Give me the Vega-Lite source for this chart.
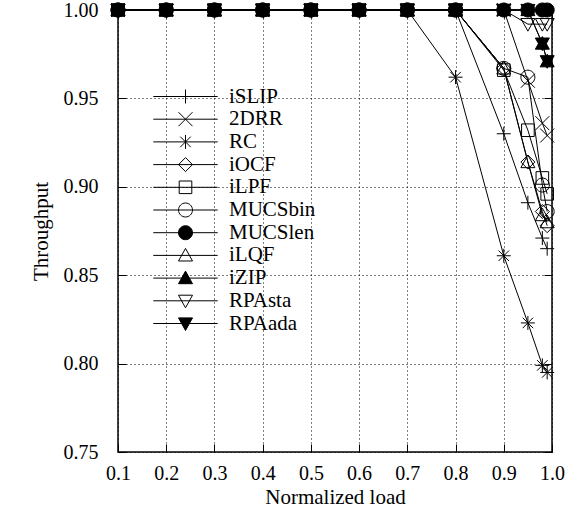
{
  "$schema": "https://vega.github.io/schema/vega-lite/v6.json",
  "width": 434,
  "height": 442,
  "autosize": {"type": "none"},
  "padding": {"left": 118, "top": 10, "right": 27, "bottom": 58},
  "background": "white",
  "config": {
    "view": {"stroke": "black", "strokeWidth": 1.5},
    "axis": {
      "labelFont": "Liberation Serif", "labelFontSize": 21, "labelColor": "black", "labelFlush": false,
      "titleFont": "Liberation Serif", "titleFontSize": 21, "titleColor": "black", "titleFontWeight": "normal",
      "domain": false, "tickColor": "black", "tickSize": -8, "tickWidth": 1,
      "grid": true, "gridColor": "black", "gridDash": [1, 3], "gridWidth": 1, "gridOpacity": 1
    },
    "legend": {
      "labelFont": "Liberation Serif", "labelFontSize": 21, "labelColor": "black",
      "symbolStrokeColor": "black", "symbolStrokeWidth": 1, "symbolSize": 196,
      "labelOffset": 33, "rowPadding": 0.7, "padding": 0, "symbolOpacity": 1
    }
  },
  "data": {"values": [
    {"s":"iSLIP","x":0.1,"y":1},{"s":"iSLIP","x":0.2,"y":1},{"s":"iSLIP","x":0.3,"y":1},{"s":"iSLIP","x":0.4,"y":1},{"s":"iSLIP","x":0.5,"y":1},{"s":"iSLIP","x":0.6,"y":1},{"s":"iSLIP","x":0.7,"y":1},{"s":"iSLIP","x":0.8,"y":1},{"s":"iSLIP","x":0.9,"y":0.930},{"s":"iSLIP","x":0.95,"y":0.891},{"s":"iSLIP","x":0.98,"y":0.871},{"s":"iSLIP","x":0.99,"y":0.865},
    {"s":"2DRR","x":0.1,"y":1},{"s":"2DRR","x":0.2,"y":1},{"s":"2DRR","x":0.3,"y":1},{"s":"2DRR","x":0.4,"y":1},{"s":"2DRR","x":0.5,"y":1},{"s":"2DRR","x":0.6,"y":1},{"s":"2DRR","x":0.7,"y":1},{"s":"2DRR","x":0.8,"y":1},{"s":"2DRR","x":0.9,"y":1},{"s":"2DRR","x":0.95,"y":0.960},{"s":"2DRR","x":0.98,"y":0.936},{"s":"2DRR","x":0.99,"y":0.929},
    {"s":"RC","x":0.1,"y":1},{"s":"RC","x":0.2,"y":1},{"s":"RC","x":0.3,"y":1},{"s":"RC","x":0.4,"y":1},{"s":"RC","x":0.5,"y":1},{"s":"RC","x":0.6,"y":1},{"s":"RC","x":0.7,"y":1},{"s":"RC","x":0.8,"y":0.962},{"s":"RC","x":0.9,"y":0.861},{"s":"RC","x":0.95,"y":0.823},{"s":"RC","x":0.98,"y":0.799},{"s":"RC","x":0.99,"y":0.795},
    {"s":"iOCF","x":0.1,"y":1},{"s":"iOCF","x":0.2,"y":1},{"s":"iOCF","x":0.3,"y":1},{"s":"iOCF","x":0.4,"y":1},{"s":"iOCF","x":0.5,"y":1},{"s":"iOCF","x":0.6,"y":1},{"s":"iOCF","x":0.7,"y":1},{"s":"iOCF","x":0.8,"y":1},{"s":"iOCF","x":0.9,"y":0.967},{"s":"iOCF","x":0.95,"y":0.914},{"s":"iOCF","x":0.98,"y":0.886},{"s":"iOCF","x":0.99,"y":0.878},
    {"s":"iLPF","x":0.1,"y":1},{"s":"iLPF","x":0.2,"y":1},{"s":"iLPF","x":0.3,"y":1},{"s":"iLPF","x":0.4,"y":1},{"s":"iLPF","x":0.5,"y":1},{"s":"iLPF","x":0.6,"y":1},{"s":"iLPF","x":0.7,"y":1},{"s":"iLPF","x":0.8,"y":1},{"s":"iLPF","x":0.9,"y":0.966},{"s":"iLPF","x":0.95,"y":0.932},{"s":"iLPF","x":0.98,"y":0.905},{"s":"iLPF","x":0.99,"y":0.896},
    {"s":"MUCSbin","x":0.1,"y":1},{"s":"MUCSbin","x":0.2,"y":1},{"s":"MUCSbin","x":0.3,"y":1},{"s":"MUCSbin","x":0.4,"y":1},{"s":"MUCSbin","x":0.5,"y":1},{"s":"MUCSbin","x":0.6,"y":1},{"s":"MUCSbin","x":0.7,"y":1},{"s":"MUCSbin","x":0.8,"y":1},{"s":"MUCSbin","x":0.9,"y":0.967},{"s":"MUCSbin","x":0.95,"y":0.962},{"s":"MUCSbin","x":0.98,"y":0.901},{"s":"MUCSbin","x":0.99,"y":0.886},
    {"s":"MUCSlen","x":0.1,"y":1},{"s":"MUCSlen","x":0.2,"y":1},{"s":"MUCSlen","x":0.3,"y":1},{"s":"MUCSlen","x":0.4,"y":1},{"s":"MUCSlen","x":0.5,"y":1},{"s":"MUCSlen","x":0.6,"y":1},{"s":"MUCSlen","x":0.7,"y":1},{"s":"MUCSlen","x":0.8,"y":1},{"s":"MUCSlen","x":0.9,"y":1},{"s":"MUCSlen","x":0.95,"y":1},{"s":"MUCSlen","x":0.98,"y":1},{"s":"MUCSlen","x":0.99,"y":1},
    {"s":"iLQF","x":0.1,"y":1},{"s":"iLQF","x":0.2,"y":1},{"s":"iLQF","x":0.3,"y":1},{"s":"iLQF","x":0.4,"y":1},{"s":"iLQF","x":0.5,"y":1},{"s":"iLQF","x":0.6,"y":1},{"s":"iLQF","x":0.7,"y":1},{"s":"iLQF","x":0.8,"y":1},{"s":"iLQF","x":0.9,"y":0.967},{"s":"iLQF","x":0.95,"y":0.914},{"s":"iLQF","x":0.98,"y":0.884},{"s":"iLQF","x":0.99,"y":0.880},
    {"s":"iZIP","x":0.1,"y":1},{"s":"iZIP","x":0.2,"y":1},{"s":"iZIP","x":0.3,"y":1},{"s":"iZIP","x":0.4,"y":1},{"s":"iZIP","x":0.5,"y":1},{"s":"iZIP","x":0.6,"y":1},{"s":"iZIP","x":0.7,"y":1},{"s":"iZIP","x":0.8,"y":1},{"s":"iZIP","x":0.9,"y":1},{"s":"iZIP","x":0.95,"y":1},{"s":"iZIP","x":0.98,"y":0.981},{"s":"iZIP","x":0.99,"y":0.971},
    {"s":"RPAsta","x":0.1,"y":1},{"s":"RPAsta","x":0.2,"y":1},{"s":"RPAsta","x":0.3,"y":1},{"s":"RPAsta","x":0.4,"y":1},{"s":"RPAsta","x":0.5,"y":1},{"s":"RPAsta","x":0.6,"y":1},{"s":"RPAsta","x":0.7,"y":1},{"s":"RPAsta","x":0.8,"y":1},{"s":"RPAsta","x":0.9,"y":1},{"s":"RPAsta","x":0.95,"y":0.992},{"s":"RPAsta","x":0.98,"y":0.992},{"s":"RPAsta","x":0.99,"y":0.992},
    {"s":"RPAada","x":0.1,"y":1},{"s":"RPAada","x":0.2,"y":1},{"s":"RPAada","x":0.3,"y":1},{"s":"RPAada","x":0.4,"y":1},{"s":"RPAada","x":0.5,"y":1},{"s":"RPAada","x":0.6,"y":1},{"s":"RPAada","x":0.7,"y":1},{"s":"RPAada","x":0.8,"y":1},{"s":"RPAada","x":0.9,"y":1},{"s":"RPAada","x":0.95,"y":1},{"s":"RPAada","x":0.98,"y":0.981},{"s":"RPAada","x":0.99,"y":0.971}
  ]},
  "layer": [
    {
      "mark": {"type": "line", "color": "black", "strokeWidth": 1},
      "encoding": {
        "x": {"field": "x", "type": "quantitative", "title": "Normalized load",
          "scale": {"domain": [0.1, 1.0], "nice": false, "zero": false},
          "axis": {"values": [0.1,0.2,0.3,0.4,0.5,0.6,0.7,0.8,0.9,1.0], "format": ".1f", "labelFontSize": 20, "labelPadding": 19.5, "titlePadding": 3}},
        "y": {"field": "y", "type": "quantitative", "title": "Throughput",
          "scale": {"domain": [0.75, 1.0], "nice": false, "zero": false},
          "axis": {"values": [0.75,0.8,0.85,0.9,0.95,1.0], "format": ".2f", "labelPadding": 28, "labelFontSize": 20, "titlePadding": 12}},
        "detail": {"field": "s"}
      }
    },
    {
      "mark": {"type": "point", "stroke": "black", "strokeWidth": 1, "opacity": 1, "size": 196},
      "encoding": {
        "x": {"field": "x", "type": "quantitative", "axis": null},
        "y": {"field": "y", "type": "quantitative", "axis": null},
        "shape": {"field": "s", "legend": null, "scale": {
          "domain": ["iSLIP","2DRR","RC","iOCF","iLPF","MUCSbin","MUCSlen","iLQF","iZIP","RPAsta","RPAada"],
          "range": [
            "M-1,0H1M0,-1V1",
            "M-1,-1L1,1M-1,1L1,-1",
            "M-1,0H1M0,-1V1M-0.75,-0.75L0.75,0.75M-0.75,0.75L0.75,-0.75",
            "M0,-1L1,0L0,1L-1,0Z",
            "M-0.9,-0.9H0.9V0.9H-0.9Z",
            "M1,0A1,1,0,1,1,-1,0A1,1,0,1,1,1,0Z",
            "M1,0A1,1,0,1,1,-1,0A1,1,0,1,1,1,0Z",
            "M0,-1L1,0.8H-1Z",
            "M0,-1L1,0.8H-1Z",
            "M0,1L1,-0.8H-1Z",
            "M0,1L1,-0.8H-1Z"
          ]}},
        "fill": {"field": "s", "legend": null, "scale": {
          "domain": ["iSLIP","2DRR","RC","iOCF","iLPF","MUCSbin","MUCSlen","iLQF","iZIP","RPAsta","RPAada"],
          "range": ["transparent","transparent","transparent","transparent","transparent","transparent","black","transparent","black","transparent","black"]}}
      }
    },
    {
      "transform": [{"filter": "datum.x > 5"}],
      "mark": {"type": "point", "stroke": "black", "strokeWidth": 1, "opacity": 1, "size": 196},
      "encoding": {
        "x": {"field": "x", "type": "quantitative",
          "axis": {"orient": "top", "values": [0.1,0.2,0.3,0.4,0.5,0.6,0.7,0.8,0.9,1.0], "labels": false, "title": null, "grid": false}},
        "y": {"field": "y", "type": "quantitative",
          "axis": {"orient": "right", "values": [0.75,0.8,0.85,0.9,0.95,1.0], "labels": false, "title": null, "grid": false}},
        "shape": {"field": "s", "legend": {"title": null, "orient": "none", "legendX": 57, "legendY": 76,
            "encode": {"symbols": {"update": {"stroke": {"value": "black"}, "strokeWidth": {"value": 1}}}}}, "scale": {
          "domain": ["iSLIP","2DRR","RC","iOCF","iLPF","MUCSbin","MUCSlen","iLQF","iZIP","RPAsta","RPAada"],
          "range": [
            "M-4.6,0H4.6M0,-1V1",
            "M-4.6,0H4.6M-1,-1L1,1M-1,1L1,-1",
            "M-4.6,0H4.6M0,-1V1M-0.75,-0.75L0.75,0.75M-0.75,0.75L0.75,-0.75",
            "M-4.6,0H4.6M0,-1L1,0L0,1L-1,0Z",
            "M-4.6,0H4.6M-0.9,-0.9H0.9V0.9H-0.9Z",
            "M-4.6,0H4.6M1,0A1,1,0,1,1,-1,0A1,1,0,1,1,1,0Z",
            "M-4.6,0H4.6M1,0A1,1,0,1,1,-1,0A1,1,0,1,1,1,0Z",
            "M-4.6,0H4.6M0,-1L1,0.8H-1Z",
            "M-4.6,0H4.6M0,-1L1,0.8H-1Z",
            "M-4.6,0H4.6M0,1L1,-0.8H-1Z",
            "M-4.6,0H4.6M0,1L1,-0.8H-1Z"
          ]}},
        "fill": {"field": "s", "legend": {"title": null, "orient": "none", "legendX": 57, "legendY": 76,
            "encode": {"symbols": {"update": {"stroke": {"value": "black"}, "strokeWidth": {"value": 1}}}}}, "scale": {
          "domain": ["iSLIP","2DRR","RC","iOCF","iLPF","MUCSbin","MUCSlen","iLQF","iZIP","RPAsta","RPAada"],
          "range": ["transparent","transparent","transparent","transparent","transparent","transparent","black","transparent","black","transparent","black"]}}
      }
    }
  ],
  "resolve": {"scale": {"shape": "independent", "fill": "independent"}, "axis": {"x": "independent", "y": "independent"}}
}
